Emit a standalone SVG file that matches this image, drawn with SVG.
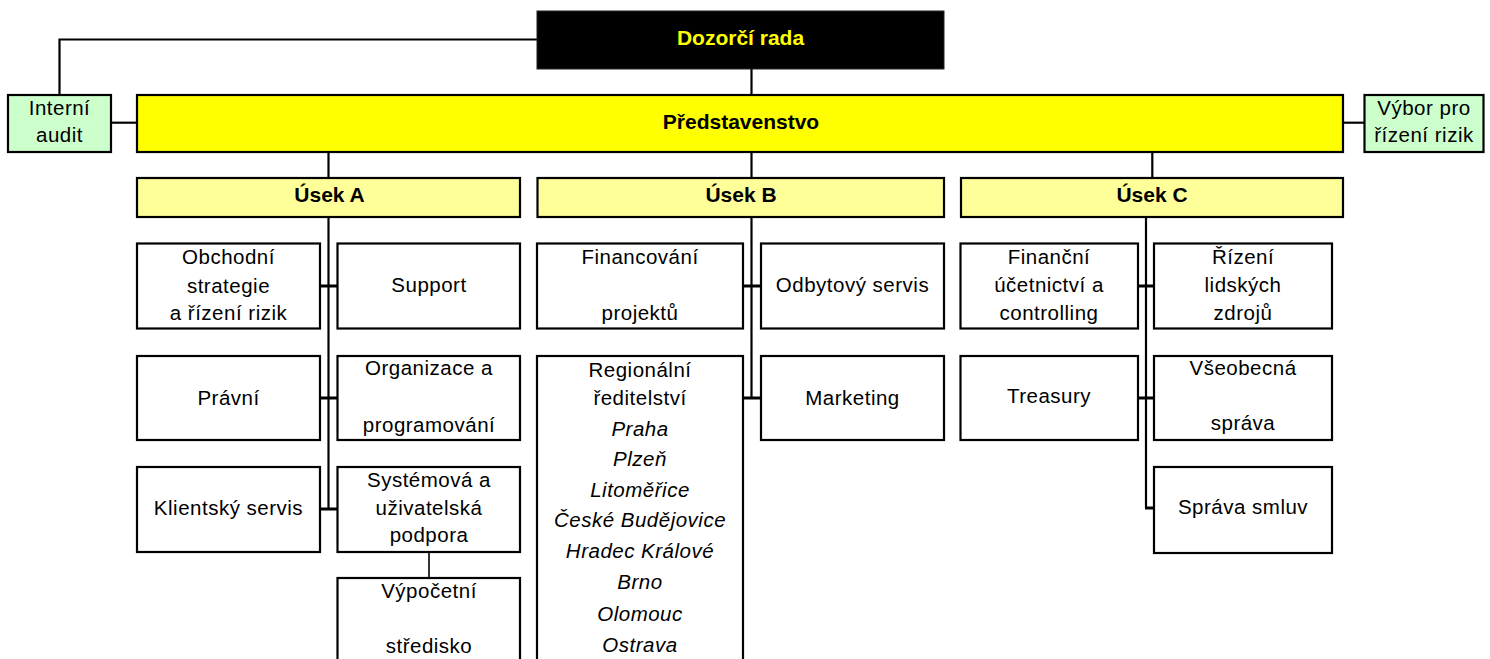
<svg xmlns="http://www.w3.org/2000/svg" width="1490" height="659" viewBox="0 0 1490 659">
<style>
.bx{stroke:#000;stroke-width:2.2}
.w{fill:#fff}
.g{fill:#CCFFCC}
.y{fill:#FFFF00}
.ly{fill:#FFFF99}
.t{font-family:"Liberation Sans",Arial,sans-serif;font-size:20.5px;fill:#000;text-anchor:middle;letter-spacing:0.5px}
.b{font-weight:bold;font-size:21px;letter-spacing:0}
.i{font-style:italic}
.c line,.c polyline{stroke:#000;stroke-width:2.2;fill:none}
.c .s{stroke-width:3}
</style>
<rect width="1490" height="659" fill="#fff"/>
<g class="c" id="connectors">
<polyline points="59.5,95 59.5,39.5 537,39.5"/>
<line x1="751.5" y1="69" x2="751.5" y2="95"/>
<line x1="111" y1="122.7" x2="137" y2="122.7"/>
<line x1="1343" y1="122.7" x2="1364" y2="122.7"/>
<line x1="328.5" y1="152" x2="328.5" y2="178"/>
<line x1="751.5" y1="152" x2="751.5" y2="178"/>
<line x1="1152.3" y1="152" x2="1152.3" y2="178"/>
<line x1="328.5" y1="217" x2="328.5" y2="510"/>
<line class="s" x1="320" y1="286" x2="337" y2="286"/>
<line class="s" x1="320" y1="398" x2="337" y2="398"/>
<line class="s" x1="320" y1="509" x2="337" y2="509"/>
<line x1="429" y1="552" x2="429" y2="578" style="stroke-width:1.6"/>
<line x1="751.5" y1="217" x2="751.5" y2="399"/>
<line class="s" x1="743" y1="286" x2="761" y2="286"/>
<line class="s" x1="743" y1="398" x2="761" y2="398"/>
<line x1="1146" y1="217" x2="1146" y2="508"/>
<line class="s" x1="1138" y1="286" x2="1154" y2="286"/>
<line class="s" x1="1138" y1="398" x2="1154" y2="398"/>
<line class="s" x1="1145" y1="508" x2="1154" y2="508"/>
</g>
<g id="dozorci-rada">
<rect x="537" y="11" width="407" height="58" fill="#000" stroke="#222" stroke-width="1"/>
<text class="t b" x="740.5" y="45" style="fill:#FFFF00">Dozorčí rada</text>
</g>
<g id="interni-audit">
<rect class="bx g" x="8" y="95" width="103" height="57"/>
<text class="t" x="59.5" y="115">Interní</text>
<text class="t" x="59.5" y="142">audit</text>
</g>
<g id="predstavenstvo">
<rect class="bx y" x="137" y="95" width="1206" height="57"/>
<text class="t b" x="741" y="128.5">Představenstvo</text>
</g>
<g id="vybor">
<rect class="bx g" x="1364.5" y="95" width="119" height="57"/>
<text class="t" x="1424" y="115">Výbor pro</text>
<text class="t" x="1424" y="142">řízení rizik</text>
</g>
<g id="usek-a">
<rect class="bx ly" x="137" y="178" width="383" height="39"/>
<text class="t b" x="329.5" y="202">Úsek A</text>
</g>
<g id="usek-b">
<rect class="bx ly" x="537.5" y="178" width="406.5" height="39"/>
<text class="t b" x="741" y="202">Úsek B</text>
</g>
<g id="usek-c">
<rect class="bx ly" x="961" y="178" width="382" height="39"/>
<text class="t b" x="1152" y="202">Úsek C</text>
</g>
<g id="obchodni">
<rect class="bx w" x="137" y="243.5" width="183" height="85"/>
<text class="t" x="228.5" y="264">Obchodní</text>
<text class="t" x="228.5" y="292.5">strategie</text>
<text class="t" x="228.5" y="320">a řízení rizik</text>
</g>
<g id="support">
<rect class="bx w" x="337.5" y="243.5" width="182.5" height="85"/>
<text class="t" x="429" y="292">Support</text>
</g>
<g id="pravni">
<rect class="bx w" x="137" y="356" width="183" height="84"/>
<text class="t" x="228.5" y="405">Právní</text>
</g>
<g id="organizace">
<rect class="bx w" x="337.5" y="356" width="182.5" height="84"/>
<text class="t" x="429" y="375">Organizace a</text>
<text class="t" x="429" y="432">programování</text>
</g>
<g id="klientsky">
<rect class="bx w" x="137" y="467" width="183" height="85"/>
<text class="t" x="228.5" y="515">Klientský servis</text>
</g>
<g id="systemova">
<rect class="bx w" x="337.5" y="467" width="182.5" height="85"/>
<text class="t" x="429" y="487">Systémová a</text>
<text class="t" x="429" y="514.5">uživatelská</text>
<text class="t" x="429" y="542">podpora</text>
</g>
<g id="vypocetni">
<rect class="bx w" x="337.5" y="578" width="182.5" height="100"/>
<text class="t" x="429" y="598">Výpočetní</text>
<text class="t" x="429" y="653">středisko</text>
</g>
<g id="financovani">
<rect class="bx w" x="537" y="243.5" width="206" height="85"/>
<text class="t" x="640" y="264">Financování</text>
<text class="t" x="640" y="320">projektů</text>
</g>
<g id="odbytovy">
<rect class="bx w" x="761" y="243.5" width="183" height="85"/>
<text class="t" x="852.5" y="291.5">Odbytový servis</text>
</g>
<g id="regionalni">
<rect class="bx w" x="537" y="356" width="206" height="330"/>
<text class="t" x="640" y="376.5">Regionální</text>
<text class="t" x="640" y="404.5">ředitelství</text>
<text class="t i" x="640" y="436">Praha</text>
<text class="t i" x="640" y="466">Plzeň</text>
<text class="t i" x="640" y="496.5">Litoměřice</text>
<text class="t i" x="640" y="526.5">České Budějovice</text>
<text class="t i" x="640" y="558">Hradec Králové</text>
<text class="t i" x="640" y="588.5">Brno</text>
<text class="t i" x="640" y="620.5">Olomouc</text>
<text class="t i" x="640" y="652">Ostrava</text>
</g>
<g id="marketing">
<rect class="bx w" x="761" y="356" width="183" height="84"/>
<text class="t" x="852.5" y="404.5">Marketing</text>
</g>
<g id="financni">
<rect class="bx w" x="960.5" y="243.5" width="177.5" height="85"/>
<text class="t" x="1049" y="263.5">Finanční</text>
<text class="t" x="1049" y="291.5">účetnictví a</text>
<text class="t" x="1049" y="320">controlling</text>
</g>
<g id="rizeni-lz">
<rect class="bx w" x="1154" y="243.5" width="178" height="85"/>
<text class="t" x="1243" y="263.5">Řízení</text>
<text class="t" x="1243" y="291.5">lidských</text>
<text class="t" x="1243" y="320">zdrojů</text>
</g>
<g id="treasury">
<rect class="bx w" x="960.5" y="356" width="177.5" height="84"/>
<text class="t" x="1049" y="403">Treasury</text>
</g>
<g id="vseobecna">
<rect class="bx w" x="1154" y="356" width="178" height="84"/>
<text class="t" x="1243" y="374.5">Všeobecná</text>
<text class="t" x="1243" y="429.5">správa</text>
</g>
<g id="sprava-smluv">
<rect class="bx w" x="1154" y="467" width="178" height="86"/>
<text class="t" x="1243" y="513.5">Správa smluv</text>
</g>
</svg>
